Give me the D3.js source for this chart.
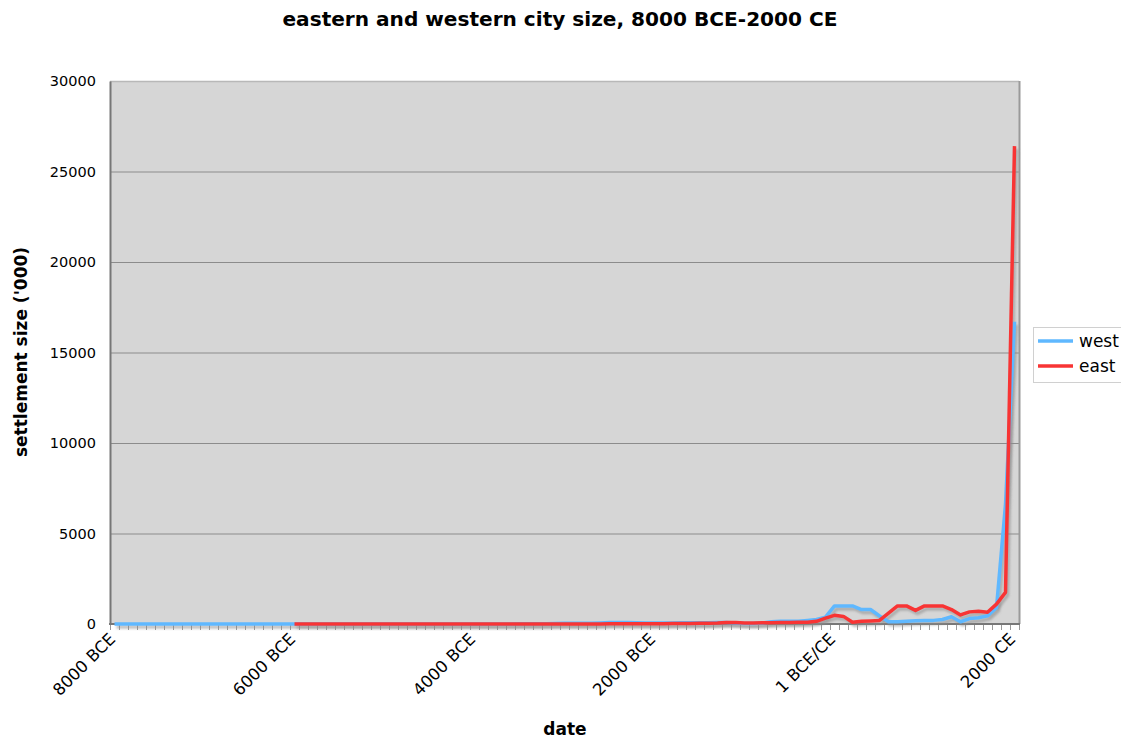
<!DOCTYPE html>
<html><head><meta charset="utf-8">
<script src="https://cdn.jsdelivr.net/npm/d3@7/dist/d3.min.js"></script>
<style>
html,body{margin:0;padding:0;background:#fff;}
text{font-family:"DejaVu Sans",Verdana,sans-serif;}
</style></head>
<body>
<svg id="chart" width="1121" height="740"></svg>
<script>
// ---- data ----
const categories = [
 "8000 BCE","7900 BCE","7800 BCE","7700 BCE","7600 BCE","7500 BCE","7400 BCE","7300 BCE","7200 BCE","7100 BCE",
 "7000 BCE","6900 BCE","6800 BCE","6700 BCE","6600 BCE","6500 BCE","6400 BCE","6300 BCE","6200 BCE","6100 BCE",
 "6000 BCE","5900 BCE","5800 BCE","5700 BCE","5600 BCE","5500 BCE","5400 BCE","5300 BCE","5200 BCE","5100 BCE",
 "5000 BCE","4900 BCE","4800 BCE","4700 BCE","4600 BCE","4500 BCE","4400 BCE","4300 BCE","4200 BCE","4100 BCE",
 "4000 BCE","3900 BCE","3800 BCE","3700 BCE","3600 BCE","3500 BCE","3400 BCE","3300 BCE","3200 BCE","3100 BCE",
 "3000 BCE","2900 BCE","2800 BCE","2700 BCE","2600 BCE","2500 BCE","2400 BCE","2300 BCE","2200 BCE","2100 BCE",
 "2000 BCE","1900 BCE","1800 BCE","1700 BCE","1600 BCE","1500 BCE","1400 BCE","1300 BCE","1200 BCE","1100 BCE",
 "1000 BCE","900 BCE","800 BCE","700 BCE","600 BCE","500 BCE","400 BCE","300 BCE","200 BCE","100 BCE",
 "1 BCE/CE","100 CE","200 CE","300 CE","400 CE","500 CE","600 CE","700 CE","800 CE","900 CE",
 "1000 CE","1100 CE","1200 CE","1300 CE","1400 CE","1500 CE","1600 CE","1700 CE","1800 CE","1900 CE",
 "2000 CE"
];
const shownLabels = ["8000 BCE","6000 BCE","4000 BCE","2000 BCE","1 BCE/CE","2000 CE"];
const yTicks = [0,5000,10000,15000,20000,25000,30000];

const west = [
 1,1,1,1,1,1,1,1,1,1,
 3,3,3,3,3,3,3,3,3,3,
 3,3,3,3,3,3,3,3,3,3,
 4,4,4,4,4,4,4,4,4,4,
 5,5,5,5,5,10,10,15,20,30,
 45,45,45,45,60,80,80,80,70,60,
 60,60,60,70,75,75,75,80,80,50,
 25,30,50,120,150,150,150,200,250,375,
 1000,1000,1000,800,800,450,125,125,150,175,
 200,200,250,400,125,300,350,450,900,6600,
 16700
];
const east = [
 null,null,null,null,null,null,null,null,null,null,
 null,null,null,null,null,null,null,null,null,null,
 1,1,1,1,1,1,1,1,1,1,
 2,2,2,2,2,2,2,2,2,2,
 3,3,3,3,3,3,3,3,3,3,
 5,5,5,5,5,8,8,8,10,10,
 10,20,25,30,30,35,40,50,80,80,
 50,60,70,75,80,80,90,100,150,320,
 480,420,100,150,170,200,600,1000,1000,750,
 1000,1000,1000,800,500,670,700,650,1100,1750,
 26400
];
const seriesNames = ["west","east"];
const seriesColors = ["#5fb8ff","#f83434"];

// ---- layout ----
const svg = d3.select("#chart");
const L = 110, R = 1019, T = 81, B = 624;

const x = d3.scaleBand().domain(categories).range([L, R]).paddingInner(0).paddingOuter(0);
const y = d3.scaleLinear().domain([0, 30000]).range([B, T]);
const cx = c => x(c) + x.bandwidth()/2;

// plot background
svg.append("rect").attr("x", L).attr("y", T).attr("width", R-L).attr("height", B-T).attr("fill", "#d6d6d6");

// gridlines
svg.append("g").selectAll("line").data(yTicks.filter(d => d > 0)).join("line")
  .attr("x1", L).attr("x2", R).attr("y1", d => y(d)+0.5).attr("y2", d => y(d)+0.5)
  .attr("stroke", "#8c8c8c").attr("stroke-width", 1);

// plot frame top/right
svg.append("line").attr("x1", L).attr("x2", R).attr("y1", T+0.5).attr("y2", T+0.5).attr("stroke", "#b8b8b8").attr("stroke-width", 1.5);
svg.append("line").attr("x1", R+0.5).attr("x2", R+0.5).attr("y1", T).attr("y2", B).attr("stroke", "#9a9a9a").attr("stroke-width", 2);

// y axis
const yAxis = d3.axisLeft(y).tickValues(yTicks).tickSize(0).tickPadding(14).tickFormat(d3.format("d"));
const yg = svg.append("g").attr("transform", `translate(${L},0)`).call(yAxis);
yg.select(".domain").attr("stroke", "#777").attr("stroke-width", 2);
yg.selectAll("text").attr("font-size", 14.5).attr("fill", "#000").attr("font-family", "DejaVu Sans, Verdana, sans-serif");

// x axis
const xAxis = d3.axisBottom(x).tickValues(shownLabels).tickSize(0).tickFormat(d => d);
const xg = svg.append("g").attr("transform", `translate(0,${B})`).call(xAxis);
xg.select(".domain").remove();
xg.selectAll("text")
  .attr("font-size", 16.5).attr("fill", "#000").attr("font-family", "DejaVu Sans, Verdana, sans-serif")
  .attr("text-anchor", "end").attr("dy", null).attr("y", 0)
  .attr("transform", "translate(2,16) rotate(-45)");
// minor category boundary ticks
const bounds = categories.map(c => x(c)).concat([R]);
svg.append("g").selectAll("line").data(bounds).join("line")
  .attr("x1", d => Math.round(d)+0.5).attr("x2", d => Math.round(d)+0.5)
  .attr("y1", B).attr("y2", B+6).attr("stroke", "#999").attr("stroke-width", 1);
svg.append("line").attr("x1", L-1).attr("x2", R+1).attr("y1", B).attr("y2", B).attr("stroke", "#777").attr("stroke-width", 2);

// lines
const data = [west, east];
const lineGen = d3.line()
  .defined(d => d.v !== null)
  .x(d => cx(d.c)).y(d => y(d.v));
const seriesPts = data.map(arr => arr.map((v,i) => ({c: categories[i], v})));

const defs = svg.append("defs");
defs.append("filter").attr("id","blur").attr("x","-5%").attr("y","-5%").attr("width","110%").attr("height","110%")
  .append("feGaussianBlur").attr("stdDeviation", 1.2);

seriesPts.forEach((pts, k) => {
  svg.append("path").datum(pts).attr("d", lineGen)
    .attr("fill", "none").attr("stroke", "#8a8a8a").attr("stroke-opacity", 0.55)
    .attr("stroke-width", 3.5).attr("stroke-linejoin", "round")
    .attr("transform", "translate(2,3)").attr("filter", "url(#blur)");
});
seriesPts.forEach((pts, k) => {
  svg.append("path").datum(pts).attr("d", lineGen)
    .attr("fill", "none").attr("stroke", seriesColors[k])
    .attr("stroke-width", 3.5).attr("stroke-linejoin", "round");
});

// title
svg.append("text").attr("x", 560).attr("y", 26).attr("text-anchor", "middle")
  .attr("font-size", 19).attr("font-weight", "bold")
  .attr("textLength", 555).attr("lengthAdjust", "spacingAndGlyphs")
  .text("eastern and western city size, 8000 BCE-2000 CE");

// axis titles
svg.append("text").attr("x", 565).attr("y", 735).attr("text-anchor", "middle")
  .attr("font-size", 17).attr("font-weight", "bold").text("date");
svg.append("text").attr("transform", "translate(27,352) rotate(-90)").attr("text-anchor", "middle")
  .attr("font-size", 17).attr("font-weight", "bold").text("settlement size ('000)");

// legend
const lg = svg.append("g");
lg.append("rect").attr("x", 1033.5).attr("y", 327.5).attr("width", 90).attr("height", 55)
  .attr("fill", "#fff").attr("stroke", "#d0d0d0");
seriesNames.forEach((n, k) => {
  const yy = 341 + k*25;
  lg.append("line").attr("x1", 1038).attr("x2", 1073).attr("y1", yy).attr("y2", yy)
    .attr("stroke", seriesColors[k]).attr("stroke-width", 3.6);
  lg.append("text").attr("x", 1079).attr("y", yy + 6).attr("font-size", 17).text(n);
});
</script>
</body></html>
